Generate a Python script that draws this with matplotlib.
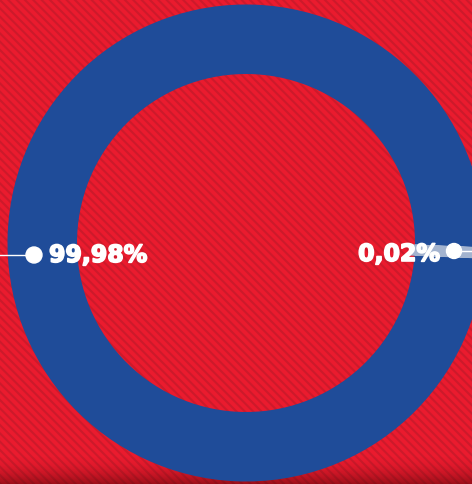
import matplotlib
matplotlib.use("Agg")
import matplotlib.pyplot as plt
import matplotlib.patheffects as pe
import numpy as np
from matplotlib.patches import Rectangle, Circle

# Data
labels = ["99,98%", "0,02%"]
values = [99.98, 0.02]
colors = ["#1F4C99", "#A3B3CF"]

W, H = 472, 485
fig = plt.figure(figsize=(W / 100, H / 100), dpi=100)
ax = fig.add_axes([0, 0, 1, 1])

RED = "#EA1B2E"
plt.rcParams["hatch.linewidth"] = 1.5
bg = Rectangle((0, 0), W, H, facecolor=RED, edgecolor="#CD1A2B", lw=0,
               hatch="\\\\\\\\", zorder=0)
ax.add_patch(bg)

# bottom shadow
grad = np.linspace(0, 1, 50) ** 2
shadow = np.zeros((50, 1, 4))
shadow[:, 0, 0] = 0.25
shadow[:, 0, 3] = grad * 0.45
ax.imshow(shadow, extent=(0, W, H, H - 30), aspect="auto", zorder=1,
          interpolation="bilinear")

cx, cy, R, ring = 246, 244, 238.5, 69.5
small_angle = 2.4
wedges, _ = ax.pie(values[::-1], colors=colors[::-1], center=(cx, cy), radius=R,
                   startangle=small_angle - values[1] * 3.6 / 2, counterclock=True,
                   wedgeprops=dict(width=ring, linewidth=0))
for w in wedges:
    w.set_zorder(2)
# make the tiny slice visible
wedges[0].set_edgecolor(colors[1])
wedges[0].set_linewidth(8)
wedges[0].set_zorder(3)

ax.set_xlim(0, W)
ax.set_ylim(H, 0)
ax.set_aspect("auto")
ax.axis("off")

# labels
font = dict(color="white", fontsize=17, fontweight="bold", family=["DejaVu Sans"],
            va="center", zorder=5,
            path_effects=[pe.withStroke(linewidth=1.2, foreground="white")])
# left label
ax.plot([0, 34], [256, 256], color="white", lw=1, zorder=4)
ax.add_patch(Circle((34, 256), 8, color="white", zorder=5))
ax.text(49, 256, labels[0], ha="left", **font)
# right label
ax.plot([454, W], [252, 252], color="white", lw=1, zorder=4)
ax.add_patch(Circle((454, 252), 7.5, color="white", zorder=5))
ax.text(440, 255, labels[1], ha="right", **font)

fig.savefig("out.png", dpi=100)
